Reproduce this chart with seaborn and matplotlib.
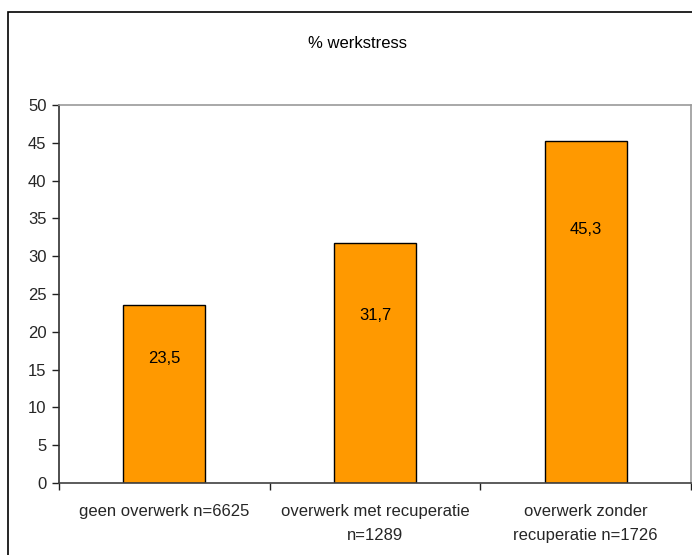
import matplotlib
matplotlib.use("Agg")
import matplotlib.pyplot as plt
import seaborn as sns
import pandas as pd
from matplotlib.patches import Rectangle

# data
categories = ["geen overwerk n=6625",
              "overwerk met recuperatie\nn=1289",
              "overwerk zonder\nrecuperatie n=1726"]
values = [23.5, 31.7, 45.3]
value_labels = ["23,5", "31,7", "45,3"]

df = pd.DataFrame({"groep": categories, "pct": values})

sns.set_theme(style="white")
plt.rcParams["font.family"] = ["Liberation Sans", "DejaVu Sans"]
FS = 12

fig = plt.figure(figsize=(6.92, 5.55), dpi=100)
ax = fig.add_axes([59 / 692, 72 / 555, 632 / 692, 378 / 555])

sns.barplot(data=df, x="groep", y="pct", color="#FF9900", width=0.39,
            edgecolor="black", linewidth=1.0, saturation=1, ax=ax)

# value labels inside the bars (vertical spot as a share of bar height)
label_frac = [0.70, 0.70, 0.74]
for i, (v, lab) in enumerate(zip(values, value_labels)):
    ax.text(i, v * label_frac[i], lab, ha="center", va="center",
            fontsize=FS, color="black")

ax.set_xlim(-0.5, 2.5)
ax.set_ylim(0, 50)
ax.set_yticks(range(0, 51, 5))
ax.tick_params(axis="y", direction="out", length=5, width=1, color="#202020",
               labelsize=FS, pad=4, left=True)

# category ticks between groups, labels centred under bars
ax.set_xticks([-0.5, 0.5, 1.5, 2.5])
ax.set_xticklabels([])
ax.tick_params(axis="x", which="major", direction="out", length=5, width=1,
               color="#202020", bottom=True)
ax.set_xticks([0, 1, 2], minor=True)
ax.set_xticklabels(categories, minor=True, fontsize=FS, linespacing=1.75)
ax.tick_params(axis="x", which="minor", length=0, pad=15)
ax.set_xlabel("")
ax.set_ylabel("")

ax.spines["left"].set_color("#303030")
ax.spines["bottom"].set_color("#404040")
for s in ["top", "right"]:
    ax.spines[s].set_color("#9a9a9a")
for s in ax.spines.values():
    s.set_linewidth(1.2)

fig.text(357 / 692, 1 - 44 / 555, "% werkstress", ha="center", va="center",
         fontsize=FS, color="black")

# chart area border, cut off at the right and bottom like the reference
fig.patches.append(Rectangle((8 / 692, -0.1), 1.2, 1 - 12 / 555 + 0.1,
                             transform=fig.transFigure, fill=False,
                             edgecolor="black", linewidth=1.2, clip_on=False))

fig.savefig("out.png", dpi=100)
plt.close(fig)
